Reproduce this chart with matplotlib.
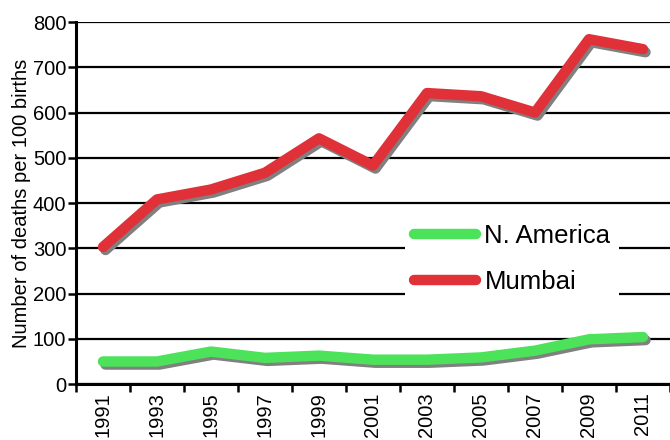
import numpy as np
import matplotlib
matplotlib.use('Agg')
import matplotlib.pyplot as plt
import matplotlib.patheffects as pe
from matplotlib.lines import Line2D

# Data
years = ['1991', '1993', '1995', '1997', '1999', '2001', '2003', '2005', '2007', '2009', '2011']
mumbai = [303, 408, 430, 467, 543, 483, 643, 636, 600, 762, 740]
n_america = [50, 50, 72, 58, 63, 54, 54, 59, 74, 99, 104]

green = '#4ce35a'
red = '#e03038'

plt.rcParams['font.family'] = ['Liberation Sans', 'DejaVu Sans']

fig = plt.figure(figsize=(6.7, 4.4), dpi=100)
ax = fig.add_axes([0.1134, 0.127, 0.8866, 0.823])

x = np.arange(len(years))
shadow = [pe.SimpleLineShadow(offset=(1.8, -2.2), shadow_color='#808080', alpha=1.0), pe.Normal()]

ax.plot(x, n_america, color=green, lw=7.5, solid_capstyle='round',
        solid_joinstyle='round', path_effects=shadow, zorder=3)
ax.plot(x, mumbai, color=red, lw=7.5, solid_capstyle='round',
        solid_joinstyle='round', path_effects=shadow, zorder=3)

ax.set_xlim(-0.5, len(years) - 0.5)
ax.set_ylim(0, 800)
ax.set_yticks(np.arange(0, 801, 100))
ax.yaxis.grid(True, color='black', lw=1.6)
ax.set_axisbelow(True)

# category axis: tick marks between categories, labels at centers
ax.set_xticks(np.arange(-0.5, len(years), 1.0))
ax.set_xticklabels([])
ax.set_xticks(x, minor=True)
ax.set_xticklabels(years, minor=True, rotation=90, fontsize=14.5)
ax.tick_params(axis='x', which='minor', length=0, pad=6)
ax.tick_params(axis='x', which='major', length=6, width=1.8, direction='out')
ax.tick_params(axis='y', length=6, width=1.8, labelsize=14.5, pad=1)

for s in ['top', 'right']:
    ax.spines[s].set_visible(False)
ax.spines['left'].set_linewidth(2.2)
ax.spines['bottom'].set_linewidth(2.2)

ax.set_ylabel('Number of deaths per 100 births', fontsize=14.5, labelpad=1)

handles = [Line2D([], [], color=green, lw=7.5, solid_capstyle='round'),
           Line2D([], [], color=red, lw=7.5, solid_capstyle='round')]
leg = ax.legend(handles, ['N. America', 'Mumbai'], loc='center left',
                bbox_to_anchor=(0.532, 0.345), frameon=True,
                fontsize=18.5, handlelength=2.4, handletextpad=0.35,
                labelspacing=0.85, borderpad=0.35)
leg.get_frame().set_edgecolor('none')
leg.get_frame().set_facecolor('white')
leg.get_frame().set_alpha(1.0)
leg.get_frame().set_boxstyle('square', pad=0.0)

fig.savefig('out.png', dpi=100)
